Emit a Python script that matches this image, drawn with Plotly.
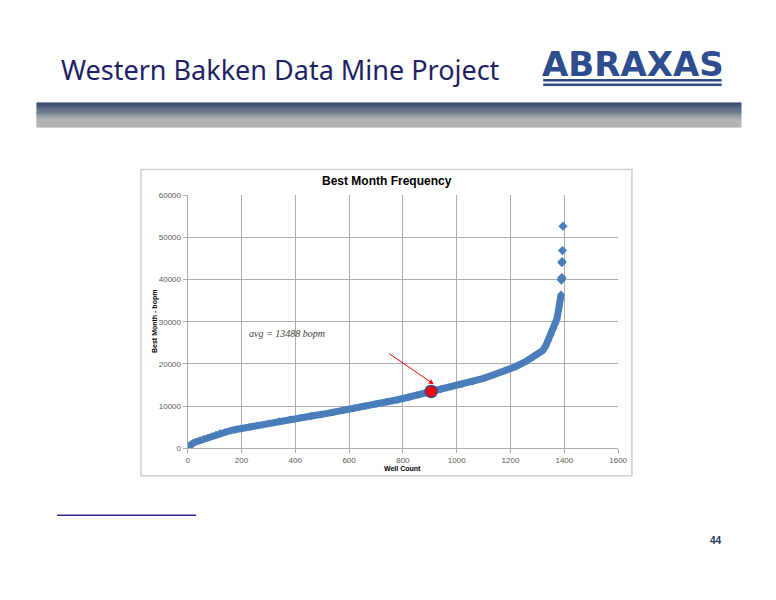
import plotly.graph_objects as go

# ---------------- data ----------------
wells = [0, 5, 10, 20, 30, 45, 60, 75, 90, 105, 120, 140, 160, 180, 200, 230, 260, 300,
         340, 380, 420, 460, 500, 540, 580, 620, 660, 700, 740, 780, 820, 860, 900, 940,
         980, 1020, 1060, 1100, 1140, 1180, 1220, 1260, 1300, 1320, 1330, 1340, 1350,
         1360, 1366, 1372, 1378, 1382, 1386, 1388]
bopm = [100, 500, 800, 1200, 1500, 1850, 2200, 2500, 2850, 3250, 3600, 3900, 4200, 4450,
        4700, 5050, 5450, 5900, 6400, 6850, 7250, 7650, 8050, 8500, 9000, 9500, 10000,
        10500, 11000, 11500, 12100, 12700, 13400, 14000, 14550, 15200, 15800, 16600,
        17500, 18400, 19400, 20700, 22300, 23200, 24200, 25500, 26900, 28400, 29500,
        30600, 32600, 34000, 35500, 36500]

tail_wells = [1389, 1390, 1391, 1391, 1392, 1393, 1395]
tail_bopm = [39900, 40200, 40500, 44000, 44300, 46900, 52700]

avg_well = 905
avg_bopm = 13488
arrow_from = (744, 22660)
arrow_to = (915, 15200)

x_ticks = [0, 200, 400, 600, 800, 1000, 1200, 1400, 1600]
y_ticks = [0, 10000, 20000, 30000, 40000, 50000, 60000]

W, H = 776, 600
def px(x):
    return x / W
def py(y):
    return 1 - y / H

BLUE = "#4A7DBA"
GRID = "#ADADAD"

fig = go.Figure()
fig.add_trace(go.Scatter(
    x=wells, y=bopm, mode="lines+markers",
    line=dict(color=BLUE, width=7),
    marker=dict(symbol="diamond", size=6, color=BLUE),
    hoverinfo="skip", showlegend=False))
fig.add_trace(go.Scatter(
    x=tail_wells, y=tail_bopm, mode="markers",
    marker=dict(symbol="diamond", size=7, color=BLUE),
    hoverinfo="skip", showlegend=False))
fig.add_trace(go.Scatter(
    x=[avg_well], y=[avg_bopm], mode="markers",
    marker=dict(symbol="circle", size=12, color="#FF0000",
                line=dict(color="#3A4A8A", width=1.5)),
    hoverinfo="skip", showlegend=False))

tickfont = dict(family="Liberation Sans, Arial", size=8, color="#595959")
fig.update_layout(
    width=W, height=H,
    margin=dict(l=0, r=0, t=0, b=0),
    paper_bgcolor="white", plot_bgcolor="white",
    xaxis=dict(domain=[188.3 / W, 625 / W], range=[0, 1600], tickvals=x_ticks,
               ticktext=[str(v) for v in x_ticks], showgrid=True, gridcolor=GRID,
               gridwidth=1, showline=True, linecolor=GRID, linewidth=1,
               ticks="outside", ticklen=4, tickcolor=GRID, tickfont=tickfont,
               zeroline=False, fixedrange=True),
    yaxis=dict(domain=[py(451), py(194.3)], range=[0, 60000], tickvals=y_ticks,
               ticktext=[str(v) for v in y_ticks], showgrid=True, gridcolor=GRID,
               gridwidth=1, showline=True, linecolor=GRID, linewidth=1,
               ticks="outside", ticklen=4, tickcolor=GRID, tickfont=tickfont,
               zeroline=False, fixedrange=True),
)

shapes = []
# banner gradient
n = 25
top, bot = 100.0, 125.0
c0 = (22, 48, 96)
c1 = (168, 168, 168)
for i in range(n):
    t = i / (n - 1)
    tt = min(1.0, t * 1.4)
    c = tuple(int(c0[k] + (c1[k] - c0[k]) * tt) for k in range(3))
    y0 = top + (bot - top) * i / n
    y1 = top + (bot - top) * (i + 1) / n
    shapes.append(dict(type="rect", xref="paper", yref="paper",
                       x0=px(35), x1=px(750), y0=py(y1 + 0.3), y1=py(y0),
                       line=dict(width=0), fillcolor="rgb(%d,%d,%d)" % c, layer="below"))
# chart frame
shapes.append(dict(type="rect", xref="paper", yref="paper", x0=px(141), x1=px(639),
                   y0=py(479), y1=py(168), line=dict(color="#CFCFCF", width=1.5),
                   fillcolor="rgba(0,0,0,0)", layer="below"))
# footnote line
shapes.append(dict(type="line", xref="paper", yref="paper", x0=px(56), x1=px(197),
                   y0=py(519), y1=py(519), line=dict(color="#2A2A8C", width=1.5)))
# logo bars
for yy in (77.5, 82):
    shapes.append(dict(type="line", xref="paper", yref="paper", x0=px(549), x1=px(730),
                       y0=py(yy), y1=py(yy), line=dict(color="#2E4D8F", width=2.5)))
fig.update_layout(shapes=shapes)

ann = []
ann.append(dict(text="Western Bakken Data Mine Project", x=px(58), y=py(66),
                xref="paper", yref="paper", xanchor="left", yanchor="middle",
                showarrow=False, font=dict(family="Noto Sans", size=27, color="#1F1F66")))
ann.append(dict(text="<b>ABRAXAS</b>", x=px(640), y=py(61), xref="paper", yref="paper",
                xanchor="center", yanchor="middle", showarrow=False,
                font=dict(family="DejaVu Sans", size=34, color="#2E4D8F")))
ann.append(dict(text="<b>Best Month Frequency</b>", x=px(391), y=py(180), xref="paper",
                yref="paper", xanchor="center", yanchor="middle", showarrow=False,
                font=dict(family="Liberation Sans, Arial", size=12, color="#000000")))
ann.append(dict(text="<b>Well Count</b>", x=px(406), y=py(472), xref="paper", yref="paper",
                xanchor="center", yanchor="middle", showarrow=False,
                font=dict(family="Liberation Sans, Arial", size=7, color="#000000")))
ann.append(dict(text="<b>Best Month - bopm</b>", x=px(155), y=py(322), xref="paper",
                yref="paper", xanchor="center", yanchor="middle", textangle=-90,
                showarrow=False,
                font=dict(family="Liberation Sans, Arial", size=7, color="#000000")))
ann.append(dict(text="<i>avg = 13488 bopm</i>", x=370, y=27300, xref="x", yref="y",
                xanchor="center", yanchor="middle", showarrow=False,
                font=dict(family="Liberation Serif", size=10, color="#404040")))
ann.append(dict(text="", x=arrow_to[0], y=arrow_to[1], ax=arrow_from[0], ay=arrow_from[1],
                xref="x", yref="y", axref="x", ayref="y", showarrow=True, arrowhead=2,
                arrowsize=1, arrowwidth=1, arrowcolor="#FF0000"))
ann.append(dict(text="<b>44</b>", x=px(724), y=py(545), xref="paper", yref="paper",
                xanchor="center", yanchor="middle", showarrow=False,
                font=dict(family="Liberation Sans, Arial", size=10, color="#1F3864")))
fig.update_layout(annotations=ann)

fig.write_html("out.html", config={"displayModeBar": False},
               post_script="document.body.style.margin='0';")
